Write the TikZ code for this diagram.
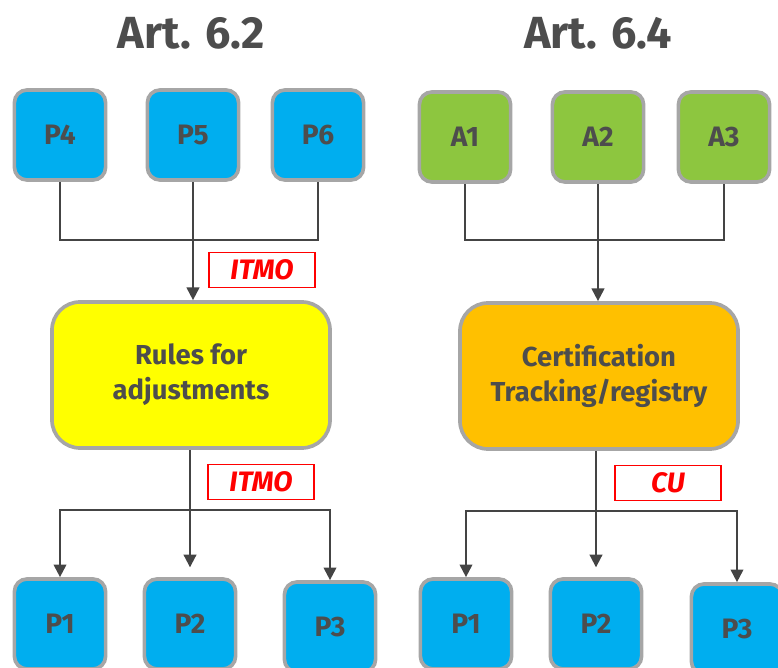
\documentclass[tikz,border=0pt]{standalone}
\usepackage{fontspec}
\setmainfont{Fira Sans}
\usetikzlibrary{arrows.meta, positioning}
\definecolor{pblue}{HTML}{00AEEF}
\definecolor{agreen}{HTML}{8DC63F}
\definecolor{ryellow}{HTML}{FFFF00}
\definecolor{corange}{HTML}{FFC000}
\definecolor{boxgray}{HTML}{A6A6A6}
\definecolor{txtgray}{HTML}{4D4D4D}
\definecolor{linegray}{HTML}{444444}
\definecolor{tagred}{HTML}{FF0000}
\begin{document}
\begin{tikzpicture}[x=0.025cm, y=-0.025cm, >={Triangle[length=9pt,width=9pt]},
        party/.style={rectangle, draw=boxgray, line width=2.6pt, rounded corners=9pt, text=txtgray, font=\fontsize{20}{24}\selectfont\bfseries, minimum width=2.28cm, minimum height=2.25cm},
        pbox/.style={party, fill=pblue},
        abox/.style={party, fill=agreen},
        module/.style={party, rounded corners=20pt, align=center, minimum width=6.95cm, minimum height=3.65cm, font=\fontsize{19.5}{25}\selectfont\bfseries},
        tag/.style={rectangle, draw=tagred, line width=1pt, fill=white, text=tagred, minimum width=2.65cm, minimum height=0.88cm, font=\fontsize{20}{22}\selectfont\bfseries\itshape},
        title/.style={text=txtgray, font=\fontsize{32}{38}\selectfont\bfseries},
        conn/.style={draw=linegray, line width=1.4pt},
        point/.style={coordinate}]

    \useasboundingbox (0,0) rectangle (778,668);
    \clip (0,0) rectangle (778,668);

    % Titles
    \node (t62) [title] at (191,33) {Art. 6.2};
    \node (t64) [title] at (598,33) {Art. 6.4};

    % Art. 6.2
    \node (p4t) [pbox] at (60,135) {P4};
    \node (p5t) [pbox] at (193,135) {P5};
    \node (p6t) [pbox] at (318,135) {P6};
    \node (rules) [module, fill=ryellow] at (191,375) {Rules for\\adjustments};
    \node (p1b) [pbox] at (60,624) {P1};
    \node (p2b) [pbox] at (190,624) {P2};
    \node (p3b) [pbox] at (330,627) {P3};
    \node (itmo1) [tag] at (262,270) {ITMO};
    \node (itmo2) [tag] at (261,482) {ITMO};

    % Art. 6.4
    \node (a1) [abox] at (465,137) {A1};
    \node (a2) [abox] at (598,137) {A2};
    \node (a3) [abox] at (724,137) {A3};
    \node (cert) [module, fill=corange] at (599,376) {Certification\\Tracking/registry};
    \node (q1) [pbox] at (466,624) {P1};
    \node (q2) [pbox] at (596,624) {P2};
    \node (q3) [pbox] at (737,629) {P3};
    \node (cu) [tag] at (668,483) {CU};

    % Junctions
    \node (jtl) [point] at (193,240) {};
    \node (jbl) [point] at (190,510) {};
    \node (jtr) [point] at (598,240) {};
    \node (jbr) [point] at (596,511) {};

    % Inputs
    \draw [conn] (p4t.south) |- (jtl) -| (p6t.south);
    \draw [conn, ->] (p5t.south) -- (p5t.south |- rules.north);
    \draw [conn] (a1.south) |- (jtr) -| (a3.south);
    \draw [conn, ->] (a2.south) -- (a2.south |- cert.north);

    % Outputs
    \draw [conn, ->, shorten >=7pt] (rules.south -| p2b) -- (p2b.north);
    \draw [conn, ->] (jbl) -| (p1b.north);
    \draw [conn, ->] (jbl) -| (p3b.north);
    \draw [conn, ->, shorten >=7pt] (cert.south -| q2) -- (q2.north);
    \draw [conn, ->] (jbr) -| (q1.north);
    \draw [conn, ->] (jbr) -| (q3.north);

\end{tikzpicture}
\end{document}
